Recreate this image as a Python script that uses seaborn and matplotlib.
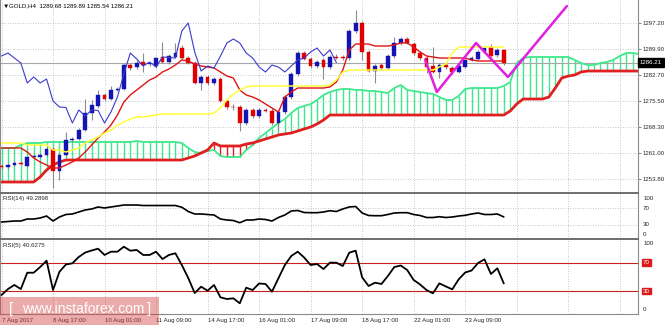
import numpy as np
import matplotlib
matplotlib.use("Agg")
import matplotlib.pyplot as plt
import matplotlib.transforms as mtransforms
from matplotlib.patches import Rectangle
import seaborn as sns

sns.set_style("white")
plt.rcParams["font.family"] = ["Liberation Sans", "DejaVu Sans"]

# ---- GOLD H4 candles (bars 0..78) ----
opens = [1257.41, 1257.13, 1257.69, 1258.25, 1257.41, 1259.92, 1259.92, 1260.47, 1262.14, 1256.02,
         1260.47, 1264.65, 1264.92, 1267.43, 1272.16, 1274.11, 1277.17, 1276.05, 1278.56, 1278.84,
         1285.51, 1284.96, 1286.35, 1285.79, 1285.24, 1287.74, 1286.35, 1287.74, 1290.24, 1287.46,
         1286.07, 1280.51, 1282.18, 1280.51, 1281.62, 1275.50, 1273.83, 1273.83, 1269.38, 1272.99,
         1271.32, 1272.99, 1272.72, 1269.38, 1272.44, 1276.61, 1283.01, 1288.85, 1287.18, 1285.24,
         1286.91, 1284.96, 1287.74, 1287.60, 1287.46, 1294.97, 1297.20, 1289.13, 1283.84, 1285.51,
         1284.68, 1288.02, 1291.64, 1292.75, 1291.36, 1288.85, 1287.46, 1285.24, 1283.57, 1285.51,
         1284.68, 1283.57, 1284.96, 1286.91, 1287.18, 1289.13, 1290.52, 1288.30, 1289.68]
highs = [1257.97, 1258.25, 1258.80, 1258.80, 1260.19, 1260.47, 1261.03, 1262.98, 1262.70, 1261.03,
         1266.87, 1265.48, 1267.99, 1276.05, 1275.78, 1278.56, 1277.72, 1279.67, 1279.39, 1286.07,
         1286.07, 1286.91, 1288.85, 1286.35, 1287.74, 1291.91, 1288.58, 1291.64, 1291.08, 1288.02,
         1286.63, 1282.73, 1282.73, 1282.18, 1282.18, 1276.05, 1274.66, 1274.38, 1273.55, 1273.55,
         1273.55, 1273.55, 1273.55, 1272.99, 1277.17, 1283.57, 1289.41, 1289.41, 1287.74, 1286.91,
         1287.46, 1288.30, 1288.58, 1288.30, 1295.53, 1300.82, 1297.76, 1289.69, 1285.79, 1286.07,
         1288.58, 1293.31, 1293.31, 1293.31, 1291.91, 1289.41, 1288.02, 1290.52, 1286.07, 1286.07,
         1285.24, 1285.79, 1287.18, 1288.02, 1289.69, 1290.80, 1291.36, 1290.24, 1289.89]
lows = [1256.58, 1256.58, 1257.41, 1257.69, 1257.13, 1259.36, 1259.64, 1260.19, 1251.29, 1253.52,
        1260.19, 1264.09, 1264.65, 1267.15, 1270.21, 1273.55, 1275.50, 1275.78, 1278.28, 1278.56,
        1284.12, 1284.40, 1283.57, 1285.24, 1284.68, 1286.07, 1285.79, 1287.46, 1287.18, 1285.79,
        1280.23, 1278.56, 1279.95, 1279.95, 1275.22, 1273.27, 1272.99, 1267.15, 1268.82, 1270.77,
        1270.77, 1272.44, 1268.82, 1267.43, 1271.88, 1276.05, 1282.45, 1286.91, 1284.68, 1284.68,
        1281.62, 1284.40, 1287.18, 1286.91, 1286.91, 1294.42, 1286.91, 1283.57, 1280.51, 1284.12,
        1284.12, 1287.46, 1291.08, 1291.36, 1288.30, 1286.91, 1283.29, 1283.29, 1281.90, 1284.40,
        1283.01, 1283.29, 1284.68, 1286.63, 1286.91, 1288.85, 1287.74, 1287.74, 1285.54]
closes = [1257.13, 1257.69, 1258.25, 1257.97, 1259.92, 1260.06, 1260.47, 1262.14, 1256.02, 1260.47,
          1264.65, 1264.92, 1267.43, 1272.16, 1274.38, 1277.17, 1276.05, 1278.56, 1278.84, 1285.51,
          1284.68, 1286.07, 1285.51, 1285.85, 1287.46, 1286.35, 1288.02, 1288.85, 1287.46, 1286.07,
          1280.51, 1282.18, 1280.51, 1281.62, 1275.50, 1273.83, 1273.69, 1269.38, 1272.99, 1271.32,
          1272.99, 1272.85, 1269.38, 1272.44, 1276.61, 1283.01, 1288.85, 1287.18, 1285.24, 1286.35,
          1284.96, 1287.74, 1287.60, 1287.46, 1294.97, 1297.20, 1289.13, 1283.84, 1285.24, 1284.68,
          1288.02, 1291.64, 1292.75, 1291.64, 1288.85, 1287.46, 1284.96, 1283.57, 1285.51, 1284.96,
          1283.57, 1285.24, 1286.91, 1287.46, 1289.13, 1290.24, 1288.02, 1289.69, 1286.21]

# ---- Ichimoku lines ----
tenkan = [1262.42, 1262.42, 1262.42, 1262.42, 1261.31, 1259.64, 1258.53, 1257.69, 1256.86, 1256.86,
          1257.69, 1258.53, 1259.64, 1261.31, 1263.26, 1265.20, 1266.87, 1268.82, 1271.60, 1275.22,
          1277.17, 1278.56, 1279.95, 1281.34, 1282.18, 1283.57, 1284.40, 1285.51, 1286.91, 1286.63,
          1285.79, 1285.24, 1284.96, 1284.68, 1283.57, 1282.45, 1281.90, 1278.56, 1277.17, 1276.61,
          1275.78, 1274.66, 1273.55, 1272.44, 1276.61, 1278.00, 1279.11, 1279.11, 1279.11, 1279.11,
          1279.11, 1279.39, 1280.78, 1284.12, 1289.69, 1291.36, 1291.36, 1291.36, 1290.80, 1290.80,
          1290.80, 1291.08, 1291.64, 1291.64, 1290.52, 1289.13, 1288.02, 1287.74, 1287.46, 1287.46,
          1287.46, 1287.46, 1287.46, 1286.91, 1286.63, 1286.63, 1286.63, 1286.63, 1286.63]
kijun = ([1263.81] * 4 + [1263.26] * 4 +
         [1261.86, 1261.86, 1261.31, 1261.86, 1262.42, 1263.81, 1264.65, 1265.48, 1266.59, 1267.43,
          1268.82, 1269.65, 1270.49, 1271.05, 1271.05, 1271.32, 1271.60] +
         [1271.88] * 8 +
         [1272.16, 1273.55, 1275.78, 1277.45, 1278.56, 1279.39] +
         [1279.67] * 12 +
         [1279.95, 1281.34, 1283.57] +
         [1284.12] * 14 +
         [1284.96, 1285.79, 1288.85] +
         [1290.52] * 8)
span_a = ([1262.42, 1262.42, 1262.42, 1263.26, 1263.81, 1263.81, 1263.81] +
          [1264.09] * 14 + [1264.37] + [1264.09] * 6 +
          [1263.81, 1262.42, 1261.31, 1261.03, 1261.59, 1261.86, 1260.19, 1259.92, 1259.92, 1259.92,
           1261.86, 1263.26, 1265.20, 1266.59, 1267.99, 1269.38, 1270.49, 1272.16, 1273.55, 1274.11,
           1274.66, 1275.78, 1277.17, 1278.00, 1278.56, 1278.84, 1278.84, 1278.56, 1278.56, 1278.28,
           1278.28, 1278.00, 1277.72, 1279.11, 1279.95, 1278.56, 1278.28, 1278.00, 1277.72, 1277.45,
           1276.61, 1275.78, 1275.78, 1276.89, 1278.84] +
          [1279.11] * 5 +
          [1279.67, 1280.78, 1286.07, 1287.46] +
          [1287.74] * 7 +
          [1286.91, 1286.07, 1285.51, 1285.51, 1286.07, 1286.35, 1286.91, 1288.02, 1288.85, 1288.85,
           1288.58])
span_b = ([1252.96] * 6 + [1254.35, 1256.30, 1257.69, 1258.53] +
          [1259.08] * 19 +
          [1259.64, 1260.19, 1261.03, 1261.86, 1263.81] +
          [1262.98] * 4 +
          [1263.53, 1263.81, 1264.37, 1264.93, 1265.48, 1266.04, 1266.32, 1266.59, 1267.15, 1267.71,
           1268.26, 1269.10, 1270.21] +
          [1271.60] * 28 +
          [1272.72, 1274.66] + [1276.05] * 4 +
          [1276.61, 1279.11, 1281.90, 1282.45, 1282.73, 1283.57] +
          [1283.84] * 9)
chikou_shift = 26

# ---- hand-drawn zigzag ----
zigzag_bars = [65.8, 67.6, 73.7, 78.65, 87.8]
zigzag_prices = [1286.91, 1278.00, 1291.64, 1282.18, 1301.93]

# ---- oscillators ----
rsi14 = [37.1, 38.3, 39.5, 39.5, 44.3, 44.3, 46.7, 51.5, 39.5, 49.1,
         55.1, 56.3, 61.1, 65.9, 68.3, 73.1, 70.7, 73.1, 75.4, 77.8,
         77.8, 77.8, 76.6, 76.6, 76.6, 76.6, 76.6, 76.6, 72.5, 62.3,
         56.3, 56.3, 55.1, 53.9, 44.3, 41.9, 40.7, 35.4, 41.9, 41.9,
         44.3, 43.1, 39.5, 47.9, 53.9, 63.5, 64.7, 59.9, 59.4, 59.4,
         61.1, 64.2, 62.3, 68.3, 73.1, 74.3, 58.7, 52.7, 52.2, 52.2,
         55.1, 58.7, 59.4, 59.4, 55.1, 52.7, 47.9, 47.9, 49.8, 47.9,
         49.1, 51.5, 53.2, 56.3, 58.7, 55.1, 55.1, 56.3, 49.2898]
rsi5 = [24.4, 32.8, 38.5, 32.8, 55.7, 55.7, 63.7, 72.6, 31.4, 57.1,
        67.2, 68.9, 77.8, 84.0, 86.9, 89.4, 80.6, 85.2, 85.2, 92.2,
        86.6, 87.6, 80.6, 80.6, 85.2, 74.9, 80.6, 83.0, 66.5, 48.3,
        27.2, 36.1, 30.5, 38.5, 21.2, 18.8, 19.8, 12.8, 34.7, 31.4,
        40.6, 39.9, 29.1, 47.9, 66.5, 79.2, 85.2, 77.0, 66.5, 67.9,
        60.9, 69.8, 69.8, 65.1, 83.8, 86.6, 49.3, 37.1, 41.7, 39.9,
        51.1, 63.7, 65.8, 59.5, 45.5, 39.2, 31.4, 26.8, 40.8, 36.4,
        32.4, 46.5, 56.0, 58.8, 69.3, 74.5, 53.9, 61.9, 40.6275]

price_ticks = [1253.80, 1261.00, 1268.30, 1275.50, 1282.70, 1289.90, 1297.20]
date_labels = ["7 Aug 2017", "8 Aug 17:00", "10 Aug 01:00", "11 Aug 09:00", "14 Aug 17:00",
               "16 Aug 01:00", "17 Aug 09:00", "18 Aug 17:00", "22 Aug 01:00", "23 Aug 09:00"]
label_step = 8

# ---- styling ----
BULL, BEAR, WICK = "#1414b4", "#e00000", "#8c8c8c"
TENKAN, KIJUN, CHIKOU = "#e01414", "#ffff3a", "#3a3acc"
CLOUD_UP, CLOUD_DN = "#3ee88c", "#e02020"
GRID = dict(color="#b4b4b4", lw=0.6, linestyle=(0, (1, 2)), zorder=0)
FS = 4.4

W, H = 665.0, 325.0


def px_box(x0, y0, x1, y1):
    return [x0 / W, 1 - y1 / H, (x1 - x0) / W, (y1 - y0) / H]


fig = plt.figure(figsize=(6.65, 3.25), dpi=100, facecolor="white")
ax = fig.add_axes(px_box(0, 0, 638, 193))
ax14 = fig.add_axes(px_box(0, 193, 638, 239))
ax5 = fig.add_axes(px_box(0, 239, 638, 313.5))

XLIM = (-0.233, 98.84)
grid_bars = list(range(0, 99, label_step))

for a in (ax, ax14, ax5):
    a.set_facecolor("white")
    for b in grid_bars:
        a.axvline(b, **GRID)
    for s in a.spines.values():
        s.set_color("#8a8a8a")
        s.set_linewidth(0.8)
ax.spines["top"].set_visible(False)
ax.spines["bottom"].set_visible(False)
ax14.spines["bottom"].set_visible(False)
for a in (ax14, ax5):
    a.spines["top"].set_color("#6e6e6e")
    a.spines["top"].set_linewidth(1.4)

# ---- main price window ----
for p in price_ticks:
    ax.axhline(p, **GRID)

cloud_x = np.arange(len(span_a))
sa, sb = np.array(span_a), np.array(span_b)
ax.vlines(cloud_x, np.minimum(sa, sb), np.maximum(sa, sb),
          colors=np.where(sa >= sb, CLOUD_UP, CLOUD_DN), lw=1.0, zorder=1)
sns.lineplot(x=cloud_x, y=sa, ax=ax, color=CLOUD_UP, linewidth=1.3, errorbar=None, zorder=2)
sns.lineplot(x=cloud_x, y=sb, ax=ax, color=CLOUD_DN, linewidth=2.0, errorbar=None, zorder=2)

ax.axhline(closes[-1], color="#a8a8a8", lw=0.8, zorder=1.5)

o, h, l, c = map(np.array, (opens, highs, lows, closes))
bars = np.arange(len(o))
colors = np.where(c >= o, BULL, BEAR)
ax.vlines(bars, l, h, colors=WICK, lw=0.8, zorder=3)
ax.bar(bars, np.maximum(np.abs(c - o), 0.25), bottom=np.minimum(o, c), width=0.58,
       color=colors, edgecolor=colors, linewidth=0.3, zorder=4)

sns.lineplot(x=bars, y=tenkan, ax=ax, color=TENKAN, linewidth=1.0, errorbar=None, zorder=5)
sns.lineplot(x=bars, y=kijun, ax=ax, color=KIJUN, linewidth=1.1, errorbar=None, zorder=5)
sns.lineplot(x=bars[:-chikou_shift], y=c[chikou_shift:], ax=ax, color=CHIKOU,
             linewidth=0.8, errorbar=None, zorder=5)
sns.lineplot(x=zigzag_bars, y=zigzag_prices, ax=ax, color="#e21ee2", linewidth=1.8,
             errorbar=None, sort=False, zorder=6)

ax.set_xlim(*XLIM)
ax.set_ylim(1249.90, 1303.60)
ax.set_xticks([])
ax.yaxis.tick_right()
ax.set_yticks(price_ticks)
ax.set_yticklabels([f"{p:.2f}" for p in price_ticks])
ax.tick_params(axis="y", length=2, width=0.6, color="#707070", labelsize=FS, pad=1)
ax.set_xlabel("")
ax.set_ylabel("")

right = mtransforms.blended_transform_factory(ax.transAxes, ax.transData)
ax.text(1.003, closes[-1], f"{closes[-1]:.2f}", transform=right, ha="left", va="center",
        fontsize=FS, color="white", zorder=10, clip_on=False,
        bbox=dict(boxstyle="square,pad=0.28", fc="black", ec="black"))
ax.text(2.5 / 638, 1 - 6 / 193, "\u25BC", transform=ax.transAxes, fontsize=4.6,
        va="center", ha="left", color="black")
ax.text(9 / 638, 1 - 6 / 193, "GOLD,H4  1289.68 1289.89 1285.54 1286.21",
        transform=ax.transAxes, fontsize=FS, va="center", ha="left", color="black")

# ---- RSI(14) window ----
for lv in (30, 70):
    ax14.axhline(lv, **GRID)
sns.lineplot(x=bars, y=rsi14, ax=ax14, color="black", linewidth=1.2, errorbar=None, zorder=3)
ax14.set_xlim(*XLIM)
ax14.set_ylim(-3.6, 106.6)
ax14.set_xticks([])
ax14.set_yticks([])
ax14.set_xlabel("")
ax14.set_ylabel("")
r14 = mtransforms.blended_transform_factory(ax14.transAxes, ax14.transData)
for lv, va in ((100, "top"), (70, "center"), (30, "center"), (0, "bottom")):
    ax14.text(1.008, lv, str(lv), transform=r14, ha="left", va=va, fontsize=FS, clip_on=False)
ax14.text(3 / 638, 0.93, f"RSI(14) {rsi14[-1]:.4f}", transform=ax14.transAxes,
          fontsize=FS, va="top", ha="left")

# ---- RSI(5) window ----
for lv in (30, 70):
    ax5.axhline(lv, color="#cc2020", lw=0.8, zorder=1)
sns.lineplot(x=bars, y=rsi5, ax=ax5, color="black", linewidth=1.3, errorbar=None, zorder=3)
ax5.set_xlim(*XLIM)
ax5.set_ylim(-1.5, 103.0)
ax5.set_yticks([])
ax5.set_xlabel("")
ax5.set_ylabel("")
r5 = mtransforms.blended_transform_factory(ax5.transAxes, ax5.transData)
ax5.text(1.008, 100, "100", transform=r5, ha="left", va="top", fontsize=FS, clip_on=False)
ax5.text(1.008, 0, "0", transform=r5, ha="left", va="bottom", fontsize=FS, clip_on=False)
for lv in (70, 30):
    ax5.text(1.008, lv, str(lv), transform=r5, ha="left", va="center", fontsize=FS,
             color="white", clip_on=False,
             bbox=dict(boxstyle="square,pad=0.15", fc="#dd1a1a", ec="#dd1a1a"))
ax5.text(3 / 638, 0.95, f"RSI(5) {rsi5[-1]:.4f}", transform=ax5.transAxes,
         fontsize=FS, va="top", ha="left")

label_bars = [i * label_step for i in range(len(date_labels))]
ax5.set_xticks(label_bars)
ax5.set_xticklabels(date_labels, ha="left")
ax5.tick_params(axis="x", length=2, width=0.6, color="#707070", labelsize=FS, pad=1.2)

# ---- watermark ----
fig.add_artist(Rectangle((0, 0), 159 / W, 28 / H, transform=fig.transFigure,
                         fc="#d64545", alpha=0.45, ec="none", zorder=20))
fig.text(9 / W, 1 - 309 / H, "[", fontsize=11, color="white", ha="left", va="center", zorder=21)
fig.text(22 / W, 1 - 309 / H, "www.instaforex.com", fontsize=9.9, color="white",
         ha="left", va="center", zorder=21)
fig.text(147 / W, 1 - 309 / H, "]", fontsize=11, color="white", ha="left", va="center", zorder=21)

fig.savefig("out.png", dpi=100, facecolor="white")
